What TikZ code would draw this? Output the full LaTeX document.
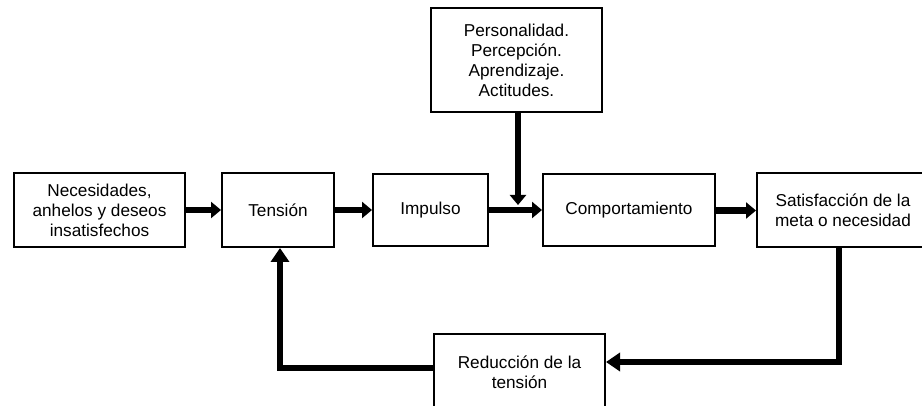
\documentclass[tikz,border=0pt]{standalone}
\usepackage{fontspec}
\setmainfont{Liberation Sans}
\usetikzlibrary{arrows.meta}
\begin{document}
\begin{tikzpicture}[x=1pt,y=-1pt,
  box/.style={draw=black,line width=2pt,fill=white,align=center,inner sep=0pt,
    font=\fontsize{17.2}{20}\selectfont},
  arr/.style={line width=6.5pt,-{Triangle[length=10pt,width=16pt]}},
  bigarr/.style={line width=6.5pt,-{Triangle[length=14pt,width=18pt]}}]
\useasboundingbox (0,0) rectangle (922,406);
\clip (0,0) rectangle (922,406);
\node[box,minimum width=171pt,minimum height=74pt] (nec) at (99.5,210)
  {Necesidades,\\anhelos y deseos\\insatisfechos};
\node[box,minimum width=112pt,minimum height=74pt] (ten) at (278,210) {Tensión};
\node[box,minimum width=115pt,minimum height=72pt] (imp) at (430.5,210) {Impulso};
\node[box,minimum width=172pt,minimum height=72pt] (comp) at (629,210.5) {Comportamiento};
\node[box,minimum width=171pt,minimum height=104pt] (top) at (516.5,60)
  {Personalidad.\\Percepción.\\Aprendizaje.\\Actitudes.};
\node[box,minimum width=172pt,minimum height=74pt] (sat) at (843,210)
  {Satisfacción de la\\meta o necesidad};
\node[box,minimum width=171pt,minimum height=76pt] (red) at (519.5,372)
  {Reducción de la\\tensión};
\coordinate (tip) at (518,205);
\draw[arr] (nec.east) -- (ten.west);
\draw[arr] (ten.east) -- (imp.west);
\draw[arr] (imp.east) -- (imp.east -| comp.west);
\draw[arr] ([xshift=1.5pt]top.south) -- (tip);
\draw[arr] (comp.east) -- (comp.east -| sat.west);
\draw[bigarr] ([xshift=-4pt]sat.south) |- ([yshift=10pt]red.east);
\draw[bigarr] ([yshift=4pt]red.west) -| ([xshift=2pt]ten.south);
\end{tikzpicture}
\end{document}
